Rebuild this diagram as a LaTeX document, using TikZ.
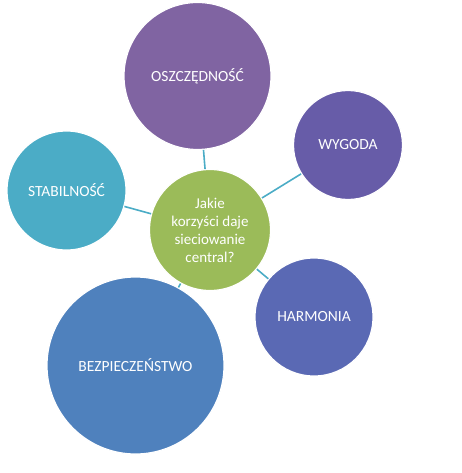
\documentclass[tikz,border=0pt]{standalone}
\usepackage{fontspec}
\setmainfont{Carlito}
\definecolor{cOsz}{HTML}{8064A2}
\definecolor{cWyg}{HTML}{675CA8}
\definecolor{cStab}{HTML}{4BACC6}
\definecolor{cCen}{HTML}{9BBB59}
\definecolor{cHarm}{HTML}{5A69B4}
\definecolor{cBez}{HTML}{4F81BD}
\definecolor{cLink}{HTML}{4BACC6}
\begin{document}
\begin{tikzpicture}[x=1pt,y=-1pt,
  bubble/.style={circle,draw=white,line width=1.2pt,text=white,inner sep=0pt,align=center,
    font=\fontsize{15.5}{19}\selectfont},
  link/.style={draw=cLink,line width=1.6pt}]
\useasboundingbox (0,0) rectangle (462,473);
\node[bubble,fill=cCen,minimum size=121pt,font=\fontsize{15}{18}\selectfont] (c) at (210,230) {Jakie\\korzyści daje\\sieciowanie\\central?};
\node[bubble,fill=cOsz,minimum size=147pt] (o) at (197.5,76) {OSZCZĘDNOŚĆ};
\node[bubble,fill=cWyg,minimum size=109pt] (w) at (348,145) {WYGODA};
\node[bubble,fill=cStab,minimum size=119pt] (s) at (66.5,190.5) {STABILNOŚĆ};
\node[bubble,fill=cHarm,minimum size=118pt] (h) at (314,317) {HARMONIA};
\node[bubble,fill=cBez,minimum size=177pt] (b) at (135.5,365.5) {BEZPIECZEŃSTWO};
\draw[link] (c) -- (o);
\draw[link] (c) -- (w);
\draw[link] (c) -- (s);
\draw[link] (c) -- (h);
\draw[link] (c) -- (b);
\end{tikzpicture}
\end{document}
